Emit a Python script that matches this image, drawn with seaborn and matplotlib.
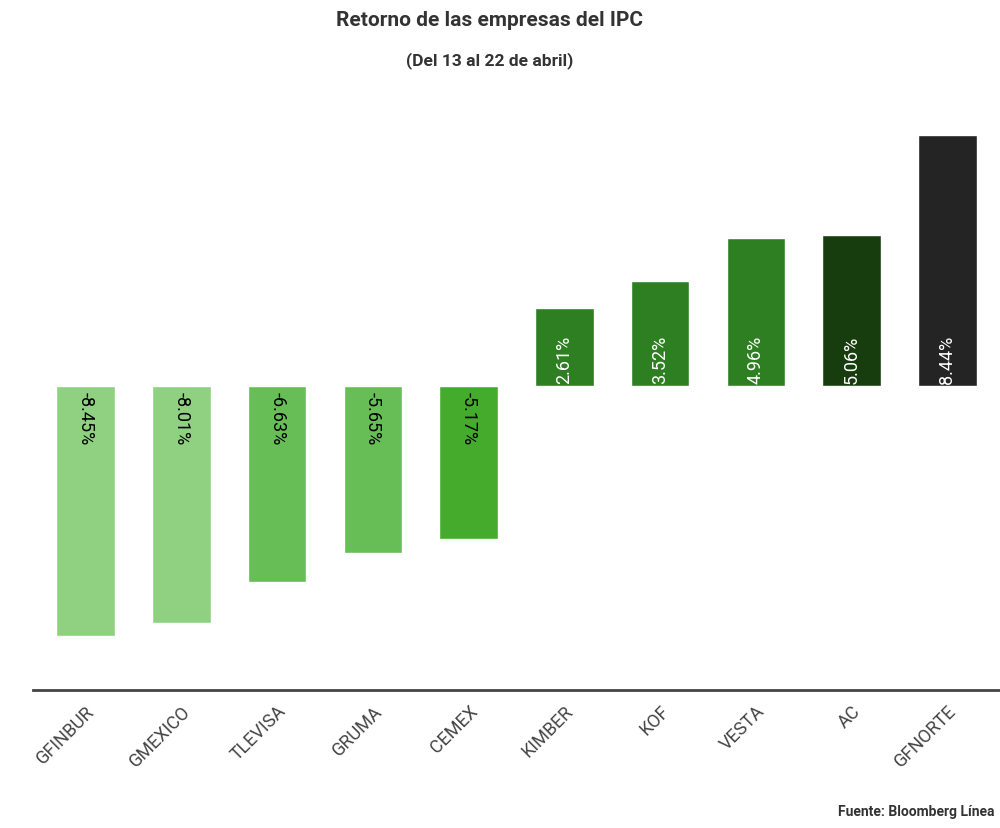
import matplotlib
matplotlib.use("Agg")
import matplotlib.pyplot as plt
import seaborn as sns
import pandas as pd

companies = ["GFINBUR","GMEXICO","TLEVISA","GRUMA","CEMEX","KIMBER","KOF","VESTA","AC","GFNORTE"]
returns = [-8.45,-8.01,-6.63,-5.65,-5.17,2.61,3.52,4.96,5.06,8.44]
colors = ["#8fd180","#8fd180","#67bd56","#67bd56","#45ab2d","#2e7f22","#2e7f22","#2e7f22","#173d0f","#242424"]

sns.set_theme(style="white")
plt.rcParams['font.family'] = ['Roboto','DejaVu Sans']
df = pd.DataFrame({"c": companies, "v": returns})

fig = plt.figure(figsize=(10, 8.29), dpi=100)
ax = fig.add_axes([0.033, 0.166, 0.967, 0.69])
sns.barplot(data=df, x="c", y="v", hue="c", palette=colors, legend=False, width=0.61, ax=ax, saturation=1)
ax.set_ylim(-10.27, 9.0)
ax.set_xlim(-0.55, 9.55)
for s in ["top","right","left"]:
    ax.spines[s].set_visible(False)
ax.spines["bottom"].set_color("#444444")
ax.spines["bottom"].set_linewidth(2)
ax.set_yticks([])
ax.set_xlabel(""); ax.set_ylabel("")
ax.tick_params(axis="x", length=0, pad=8)
for lab in ax.get_xticklabels():
    lab.set_rotation(45); lab.set_ha("right"); lab.set_rotation_mode("anchor")
    lab.set_fontsize(13); lab.set_color("#444444")
for i, v in enumerate(returns):
    if v < 0:
        ax.text(i, -0.2, f"{v:.2f}%", rotation=270, ha="center", va="top", fontsize=13, color="black")
    else:
        ax.text(i, 0.1, f"{v:.2f}%", rotation=90, ha="center", va="bottom", fontsize=13, color="white")
fig.text(0.49, 0.975, "Retorno de las empresas del IPC", ha="center", va="center", fontsize=15, fontweight="bold", color="#333333")
fig.text(0.49, 0.927, "(Del 13 al 22 de abril)", ha="center", va="center", fontsize=12.5, fontweight="bold", color="#333333")
fig.text(0.995, 0.012, "Fuente: Bloomberg Línea", ha="right", va="bottom", fontsize=10, fontweight="bold", color="#333333")
fig.savefig("out.png", dpi=100, facecolor="white")
